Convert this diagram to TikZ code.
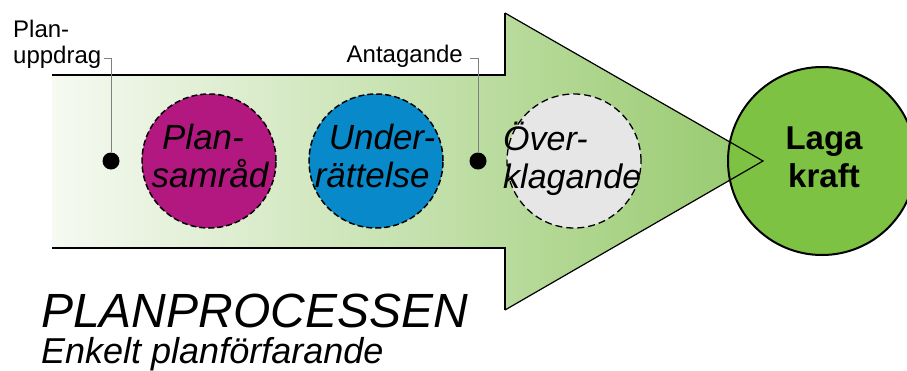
\documentclass[tikz,border=0pt]{standalone}
\usepackage{fontspec}
\setmainfont{Liberation Sans}
\usepackage{tikz}
\usetikzlibrary{positioning}

\definecolor{arrowgreen}{RGB}{150,201,108}
\definecolor{arrowpale}{RGB}{246,250,242}
\definecolor{lagagreen}{RGB}{125,194,66}
\definecolor{plum}{RGB}{178,24,128}
\definecolor{skyblue}{RGB}{8,138,202}
\definecolor{palegray}{RGB}{230,230,230}

\begin{document}
\begin{tikzpicture}[x=1pt, y=-1pt,
    phase/.style={circle, draw=black, dash pattern=on 6pt off 3pt,
                  line width=1.5pt, minimum size=134pt, inner sep=0pt},
    phasetext/.style={font=\fontsize{35}{38}\selectfont\itshape, align=left, inner sep=0pt},
    dot/.style={circle, fill=black, inner sep=0pt, minimum size=17pt},
    leader/.style={draw=gray, line width=1pt},
    milestone/.style={font=\fontsize{24}{26}\selectfont, inner sep=0pt}]
  \clip (0,0) rectangle (907,370);

  % the arrow
  \fill[left color=arrowpale, right color=arrowgreen]
    (52,75) -- (505,75) -- (505,13) -- (763,161) -- (505,310) -- (505,248) -- (52,248) -- cycle;

  \node[circle, draw=black, line width=2pt, fill=lagagreen, minimum size=188pt] (laga) at (822,161) {};

  \draw[line width=1.8pt] (52,75) -- (505,75) -- (505,13);
  \draw[line width=1.2pt] (505,13) -- (763,161) -- (505,310);
  \draw[line width=1.8pt] (505,310) -- (505,248) -- (52,248);

  \node[font=\fontsize{33}{38}\selectfont\bfseries, align=center, inner sep=0pt] (lagatext) at (824,157) {Laga\\kraft};

  % phases
  \node[phase, fill=plum] (samrad) at (209,161) {};
  \node[phase, fill=skyblue] (underr) at (376,161) {};
  \node[phase, fill=palegray, dash pattern=on 7pt off 4pt, line width=1.3pt] (overkl) at (574,161) {};

  \node[phasetext] (samradtext) at (210,156) {\hspace*{0.3em}Plan-\\samråd};
  \node[phasetext] (underrtext) at (375,156) {\hspace*{0.4em}Under-\\rättelse};
  \node[phasetext, font=\fontsize{34}{38}\selectfont\itshape, anchor=west] (overkltext) at (503,159) {Över-\\klagande};

  % milestones
  \node[dot] (uppdragdot) at (111,161) {};
  \node[dot] (antadot) at (478,161) {};

  \node[milestone, align=left, anchor=west] (uppdrag) at (13,44) {Plan-\\uppdrag};
  \node[milestone, anchor=base east] (antagande) at (463,62) {Antagande};

  \coordinate (uppdragtick) at (104,58);
  \coordinate (antatick) at (470,58);
  \draw[leader] (uppdragtick) -| (uppdragdot);
  \draw[leader] (antatick) -| (antadot);

  % title
  \node[font=\fontsize{48}{50}\selectfont\itshape, anchor=base west, inner sep=0pt] (title) at (41,327) {PLANPROCESSEN};
  \node[font=\fontsize{36}{38}\selectfont\itshape, anchor=base west, inner sep=0pt] (subtitle) at (41,363) {Enkelt planförfarande};
\end{tikzpicture}
\end{document}
